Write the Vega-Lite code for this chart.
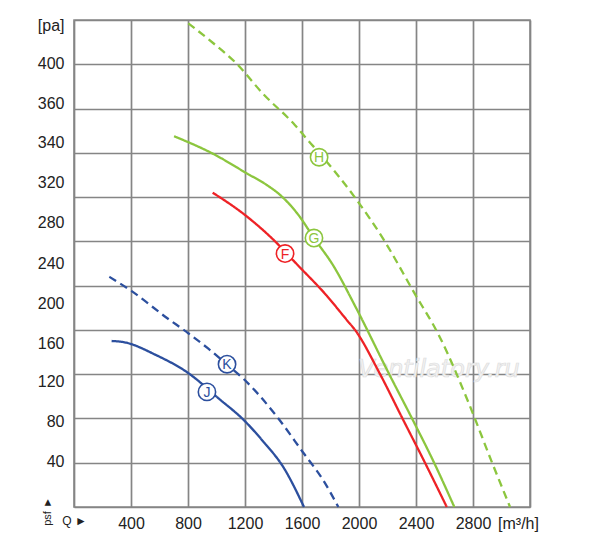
{
  "$schema": "https://vega.github.io/schema/vega-lite/v6.json",
  "width": 456,
  "height": 487,
  "autosize": {"type": "none"},
  "padding": {"left": 74, "top": 20, "right": 70, "bottom": 34},
  "background": "white",
  "config": {
    "view": {"stroke": "#8a8a8a", "strokeWidth": 1.6},
    "font": "Liberation Sans",
    "axis": {"labelColor": "#222222", "labelFont": "Liberation Sans", "labelFontSize": 16, "titleFont": "Liberation Sans"}
  },
  "datasets": {
    "curves": [
      {"curve": "H", "Q": 802, "P": 437},
      {"curve": "H", "Q": 978, "P": 419},
      {"curve": "H", "Q": 1130, "P": 402},
      {"curve": "H", "Q": 1329, "P": 373},
      {"curve": "H", "Q": 1551, "P": 345},
      {"curve": "H", "Q": 1644, "P": 331},
      {"curve": "H", "Q": 1720, "P": 320},
      {"curve": "H", "Q": 1975, "P": 279},
      {"curve": "H", "Q": 2171, "P": 242},
      {"curve": "H", "Q": 2381, "P": 195},
      {"curve": "H", "Q": 2569, "P": 153},
      {"curve": "H", "Q": 2779, "P": 91},
      {"curve": "H", "Q": 2931, "P": 41},
      {"curve": "H", "Q": 3060, "P": 0},
      {"curve": "G", "Q": 702, "P": 335},
      {"curve": "G", "Q": 978, "P": 319},
      {"curve": "G", "Q": 1212, "P": 301.5},
      {"curve": "G", "Q": 1352, "P": 291},
      {"curve": "G", "Q": 1446, "P": 282},
      {"curve": "G", "Q": 1516, "P": 273},
      {"curve": "G", "Q": 1574, "P": 264},
      {"curve": "G", "Q": 1684, "P": 243},
      {"curve": "G", "Q": 1820, "P": 218},
      {"curve": "G", "Q": 1975, "P": 181},
      {"curve": "G", "Q": 2212, "P": 120},
      {"curve": "G", "Q": 2372, "P": 80},
      {"curve": "G", "Q": 2527, "P": 40},
      {"curve": "G", "Q": 2669, "P": 0},
      {"curve": "F", "Q": 973, "P": 284},
      {"curve": "F", "Q": 1188, "P": 265},
      {"curve": "F", "Q": 1387, "P": 243},
      {"curve": "F", "Q": 1574, "P": 218},
      {"curve": "F", "Q": 1773, "P": 191},
      {"curve": "F", "Q": 1914, "P": 169},
      {"curve": "F", "Q": 1972, "P": 160},
      {"curve": "F", "Q": 2148, "P": 120},
      {"curve": "F", "Q": 2305, "P": 80},
      {"curve": "F", "Q": 2463, "P": 40},
      {"curve": "F", "Q": 2616, "P": 0},
      {"curve": "K", "Q": 248, "P": 208},
      {"curve": "K", "Q": 405, "P": 195},
      {"curve": "K", "Q": 650, "P": 171},
      {"curve": "K", "Q": 802, "P": 157},
      {"curve": "K", "Q": 943, "P": 143},
      {"curve": "K", "Q": 1071, "P": 129},
      {"curve": "K", "Q": 1188, "P": 116},
      {"curve": "K", "Q": 1422, "P": 82},
      {"curve": "K", "Q": 1609, "P": 49},
      {"curve": "K", "Q": 1750, "P": 24},
      {"curve": "K", "Q": 1855, "P": 0},
      {"curve": "J", "Q": 264, "P": 150},
      {"curve": "J", "Q": 346, "P": 149},
      {"curve": "J", "Q": 580, "P": 137},
      {"curve": "J", "Q": 791, "P": 122},
      {"curve": "J", "Q": 1025, "P": 97},
      {"curve": "J", "Q": 1188, "P": 79},
      {"curve": "J", "Q": 1329, "P": 59},
      {"curve": "J", "Q": 1469, "P": 36},
      {"curve": "J", "Q": 1614, "P": 0}
    ],
    "tags": [
      {"curve": "H", "Q": 1720, "P": 316},
      {"curve": "G", "Q": 1684, "P": 243},
      {"curve": "F", "Q": 1481, "P": 229},
      {"curve": "K", "Q": 1074, "P": 129},
      {"curve": "J", "Q": 933, "P": 104}
    ],
    "mark": [
      {"text": "Ventilatory.ru", "Q": 2562, "P": 124}
    ]
  },
  "layer": [
    {
      "data": {"name": "mark"},
      "mark": {"type": "text", "fontSize": 24, "fontStyle": "italic", "font": "DejaVu Sans", "fill": "#f2f2f2", "stroke": "#dddddd", "strokeWidth": 0.7},
      "encoding": {
        "x": {"field": "Q", "type": "quantitative", "scale": {"domain": [0, 3200], "nice": false},
          "axis": {
            "values": [0, 400, 800, 1200, 1600, 2000, 2400, 2800, 3200],
            "format": "d",
            "labelExpr": "datum.value == 0 ? 'Q ►' : datum.value == 3200 ? '[m³/h]' : datum.label",
            "labelFontSize": {"condition": {"test": "datum.value == 0", "value": 12}, "value": 16},
            "labelOffset": {"condition": {"test": "datum.value == 3200", "value": -12}, "value": 0},
            "labelFlush": false,
            "labelPadding": 8,
            "grid": true, "gridColor": "#858585", "gridWidth": 1.7,
            "ticks": false, "domain": false, "title": null
          }},
        "y": {"field": "P", "type": "quantitative", "scale": {"domain": [0, 440], "nice": false},
          "axis": {
            "values": [0, 40, 80, 120, 160, 200, 240, 280, 320, 360, 400, 440],
            "labels": false, "ticks": false, "domain": false,
            "grid": true, "gridColor": "#858585", "gridWidth": 1.7,
            "title": null
          }},
        "text": {"field": "text"}
      }
    },
    {
      "data": {"name": "curves"},
      "mark": {"type": "line", "strokeWidth": 2.3, "interpolate": "monotone"},
      "encoding": {
        "x": {"field": "Q", "type": "quantitative"},
        "y": {"field": "P", "type": "quantitative", "axis": null},
        "color": {"field": "curve", "type": "nominal", "legend": null,
          "scale": {"domain": ["F", "G", "H", "J", "K"], "range": ["#ee2226", "#8cc63e", "#8cc63e", "#2c4f9e", "#2c4f9e"]}},
        "strokeDash": {"field": "curve", "type": "nominal", "legend": null,
          "scale": {"domain": ["F", "G", "H", "J", "K"], "range": [[1, 0], [1, 0], [8, 5], [1, 0], [8, 5]]}},
        "detail": {"field": "curve"}
      }
    },
    {
      "data": {"name": "tags"},
      "mark": {"type": "point", "shape": "circle", "filled": false, "fill": "white", "fillOpacity": 1, "size": 300, "strokeWidth": 1.6, "opacity": 1},
      "encoding": {
        "x": {"field": "Q", "type": "quantitative"},
        "y": {"field": "P", "type": "quantitative",
          "axis": {
            "orient": "left",
            "values": [41, 77, 113, 148, 184, 220, 257, 293, 329, 365, 401, 435],
            "labelExpr": "datum.value == 41 ? '40' : datum.value == 77 ? '80' : datum.value == 113 ? '120' : datum.value == 148 ? '160' : datum.value == 184 ? '200' : datum.value == 220 ? '240' : datum.value == 257 ? '280' : datum.value == 293 ? '320' : datum.value == 329 ? '340' : datum.value == 365 ? '360' : datum.value == 401 ? '400' : '[pa]'",
            "labelPadding": 10,
            "grid": false, "ticks": false, "domain": false,
            "title": "psf ►",
            "titleFontSize": 11, "titleFontWeight": "normal", "titleColor": "#222222",
            "titleAngle": -90, "titleAlign": "center", "titleBaseline": "middle",
            "titleX": -27, "titleY": 491
          }},
        "stroke": {"field": "curve", "type": "nominal", "legend": null,
          "scale": {"domain": ["F", "G", "H", "J", "K"], "range": ["#ee2226", "#8cc63e", "#8cc63e", "#2c4f9e", "#2c4f9e"]}}
      }
    },
    {
      "data": {"name": "tags"},
      "mark": {"type": "text", "fontSize": 14, "baseline": "middle", "align": "center", "dy": 1},
      "encoding": {
        "x": {"field": "Q", "type": "quantitative"},
        "y": {"field": "P", "type": "quantitative", "axis": null},
        "text": {"field": "curve"},
        "color": {"field": "curve", "type": "nominal", "legend": null}
      }
    }
  ],
  "resolve": {"axis": {"y": "independent"}}
}
